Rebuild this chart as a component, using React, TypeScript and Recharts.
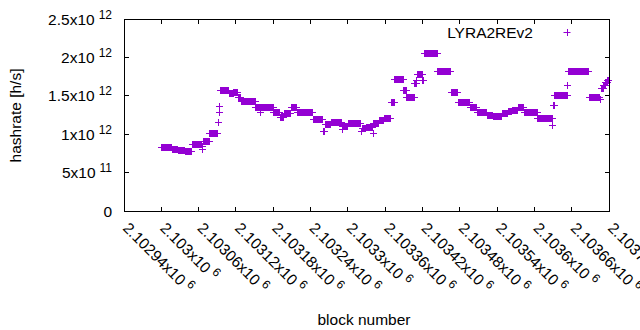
import React from "react";
import { ScatterChart, Scatter, XAxis, YAxis } from "recharts";

// runs of blocks that share the same hashrate estimate
const runStartBlock = [
  2103000, 2103017, 2103027, 2103038, 2103049, 2103065, 2103066, 2103067,
  2103077, 2103091, 2103092, 2103093, 2103094, 2103109, 2103116, 2103123,
  2103128, 2103151, 2103159, 2103160, 2103180, 2103191, 2103197, 2103208,
  2103218, 2103244, 2103260, 2103263, 2103273, 2103290, 2103291, 2103300,
  2103321, 2103322, 2103329, 2103340, 2103341, 2103350, 2103358, 2103369,
  2103375, 2103389, 2103394, 2103407, 2103410, 2103411, 2103420, 2103422,
  2103444, 2103466, 2103477, 2103496, 2103507, 2103523, 2103533, 2103548,
  2103557, 2103564, 2103573, 2103583, 2103605, 2103629, 2103630, 2103632,
  2103653, 2103654, 2103688, 2103705, 2103707, 2103711, 2103714, 2103717,
];
const runEndBlock = [
  2103016, 2103026, 2103037, 2103048, 2103064, 2103065, 2103066, 2103076,
  2103090, 2103091, 2103092, 2103093, 2103108, 2103115, 2103122, 2103127,
  2103150, 2103158, 2103159, 2103179, 2103190, 2103196, 2103207, 2103217,
  2103243, 2103259, 2103262, 2103272, 2103289, 2103290, 2103299, 2103320,
  2103321, 2103328, 2103339, 2103340, 2103349, 2103357, 2103368, 2103374,
  2103388, 2103393, 2103406, 2103409, 2103410, 2103419, 2103421, 2103443,
  2103465, 2103476, 2103495, 2103506, 2103522, 2103532, 2103547, 2103556,
  2103563, 2103572, 2103582, 2103604, 2103628, 2103629, 2103631, 2103652,
  2103653, 2103687, 2103704, 2103706, 2103710, 2103713, 2103716, 2103719,
];
const runHashrate = [
  0.837e12, 0.807e12, 0.788e12, 0.777e12, 0.872e12, 0.807e12, 0.846e12, 0.911e12,
  1.019e12, 1.163e12, 1.285e12, 1.371e12, 1.572e12, 1.53e12, 1.553e12, 1.488e12,
  1.436e12, 1.354e12, 1.285e12, 1.354e12, 1.283e12, 1.224e12, 1.276e12, 1.354e12,
  1.285e12, 1.194e12, 1.046e12, 1.137e12, 1.159e12, 1.064e12, 1.107e12, 1.142e12,
  1.046e12, 1.081e12, 1.094e12, 1.019e12, 1.146e12, 1.185e12, 1.215e12, 1.419e12,
  1.715e12, 1.576e12, 1.48e12, 1.663e12, 1.706e12, 1.784e12, 1.706e12, 2.053e12,
  1.823e12, 1.549e12, 1.415e12, 1.358e12, 1.289e12, 1.254e12, 1.237e12, 1.272e12,
  1.302e12, 1.315e12, 1.354e12, 1.289e12, 1.207e12, 1.12e12, 1.38e12, 1.504e12,
  1.641e12, 1.827e12, 1.488e12, 1.452e12, 1.602e12, 1.641e12, 1.68e12, 1.706e12,
];

const xTicks = [
  2102940, 2103000, 2103060, 2103120, 2103180, 2103240, 2103300, 2103360,
  2103420, 2103480, 2103540, 2103600, 2103660, 2103720,
];
const yTicks = [0, 0.5e12, 1e12, 1.5e12, 2e12, 2.5e12];

const seriesName = "LYRA2REv2";
const COLOR = "#9400d3";
const INK = "#000000";
const FONT = "'Liberation Sans', Arial, sans-serif";
const xDomain = [2102940, 2103720];
const yDomain = [0, 2.5e12];

// plot box (same as the chart margins below)
const PLOT = { left: 124, right: 609, top: 19, bottom: 211 };

type Point = { block: number; hashrate: number };

const points: Point[] = [];
runStartBlock.forEach((start, i) => {
  for (let b = start; b <= runEndBlock[i]; b++) {
    points.push({ block: b, hashrate: runHashrate[i] });
  }
});

// gnuplot style "2.5x10^12"
const splitExp = (v: number) => {
  if (v === 0) return { m: "0", e: "" };
  const e = Math.floor(Math.log10(v) + 1e-9);
  const m = Number((v / Math.pow(10, e)).toFixed(5)).toString();
  return { m, e: String(e) };
};

const sx = (v: number) =>
  PLOT.left + ((v - xDomain[0]) / (xDomain[1] - xDomain[0])) * (PLOT.right - PLOT.left);
const sy = (v: number) =>
  PLOT.bottom - ((v - yDomain[0]) / (yDomain[1] - yDomain[0])) * (PLOT.bottom - PLOT.top);

const XTick = (props: any) => {
  const { x, y, payload } = props;
  const { m, e } = splitExp(payload.value);
  const tx = x - 2;
  const ty = y + 18;
  return (
    <text
      x={tx}
      y={ty}
      transform={`rotate(45 ${tx} ${ty})`}
      fontSize={15.5}
      fontFamily={FONT}
      fill={INK}
    >
      {m}x10
      <tspan dx={4} dy={-6} fontSize={12}>
        {e}
      </tspan>
    </text>
  );
};

const YTick = (props: any) => {
  const { x, y, payload } = props;
  const { m, e } = splitExp(payload.value);
  return (
    <text
      x={x - 12}
      y={y + 5.5}
      textAnchor="end"
      fontSize={15.5}
      fontFamily={FONT}
      fill={INK}
    >
      {e ? `${m}x10` : m}
      {e && (
        <tspan dx={4} dy={-6} fontSize={12}>
          {e}
        </tspan>
      )}
    </text>
  );
};

const PlusShape = (props: any) => {
  const cx = Math.round(props.cx) + 0.5;
  const cy = Math.round(props.cy) + 0.5;
  return (
    <path
      d={`M${cx - 3.5},${cy}h7M${cx},${cy - 3.5}v7`}
      stroke={COLOR}
      strokeWidth={1}
      fill="none"
    />
  );
};

const XLabel = () => (
  <text x={364} y={325} textAnchor="middle" fontSize={15.5} fontFamily={FONT} fill={INK}>
    block number
  </text>
);

const YLabel = () => (
  <text
    x={21}
    y={115.5}
    transform="rotate(-90 21 115.5)"
    textAnchor="middle"
    fontSize={15.5}
    fontFamily={FONT}
    fill={INK}
  >
    hashrate [h/s]
  </text>
);

const box = (left: number, top: number, width: number, height: number) => ({
  position: "absolute" as const,
  left,
  top,
  width,
  height,
  background: INK,
});

// border with inward ticks on all four sides, like gnuplot draws it
const Frame = () => {
  const w = PLOT.right - PLOT.left + 1;
  const h = PLOT.bottom - PLOT.top + 1;
  return (
    <div style={{ position: "absolute", left: 0, top: 0, width: 640, height: 330, pointerEvents: "none" }}>
      <div style={box(PLOT.left, PLOT.top, w, 1)} />
      <div style={box(PLOT.left, PLOT.bottom, w, 1)} />
      <div style={box(PLOT.left, PLOT.top, 1, h)} />
      <div style={box(PLOT.right, PLOT.top, 1, h)} />
      {xTicks.map((v) => {
        const x = Math.floor(sx(v));
        return (
          <React.Fragment key={`xt-${v}`}>
            <div style={box(x, PLOT.bottom - 4, 1, 4)} />
            <div style={box(x, PLOT.top + 1, 1, 4)} />
          </React.Fragment>
        );
      })}
      {yTicks.map((v) => {
        const y = Math.floor(sy(v));
        return (
          <React.Fragment key={`yt-${v}`}>
            <div style={box(PLOT.left + 1, y, 4, 1)} />
            <div style={box(PLOT.right - 4, y, 4, 1)} />
          </React.Fragment>
        );
      })}
    </div>
  );
};

const App = () => {
  return (
    <div
      style={{
        position: "absolute",
        left: 0,
        top: 0,
        width: 640,
        height: 330,
        background: "#fff",
      }}
    >
      <ScatterChart
        width={640}
        height={330}
        margin={{ top: PLOT.top, right: 640 - PLOT.right, bottom: 0, left: 0 }}
      >
        <XAxis
          dataKey="block"
          type="number"
          domain={xDomain}
          ticks={xTicks}
          interval={0}
          height={330 - PLOT.bottom}
          tickSize={0}
          tickMargin={0}
          tickLine={false}
          axisLine={false}
          tick={<XTick />}
          label={{ content: XLabel }}
        />
        <YAxis
          dataKey="hashrate"
          type="number"
          domain={yDomain}
          ticks={yTicks}
          interval={0}
          width={PLOT.left}
          tickSize={0}
          tickMargin={0}
          tickLine={false}
          axisLine={false}
          tick={<YTick />}
          label={{ content: YLabel }}
        />
        <Scatter
          name={seriesName}
          data={points}
          shape={<PlusShape />}
          isAnimationActive={false}
        />
      </ScatterChart>
      <Frame />
      <svg
        width={640}
        height={50}
        style={{ position: "absolute", left: 0, top: 0, pointerEvents: "none" }}
      >
        <text x={533} y={37.5} textAnchor="end" fontSize={15.5} fontFamily={FONT} fill={INK}>
          {seriesName}
        </text>
        <path d="M563.5,32.5h7M567.5,29v7" stroke={COLOR} strokeWidth={1} />
      </svg>
    </div>
  );
};

export default App;
